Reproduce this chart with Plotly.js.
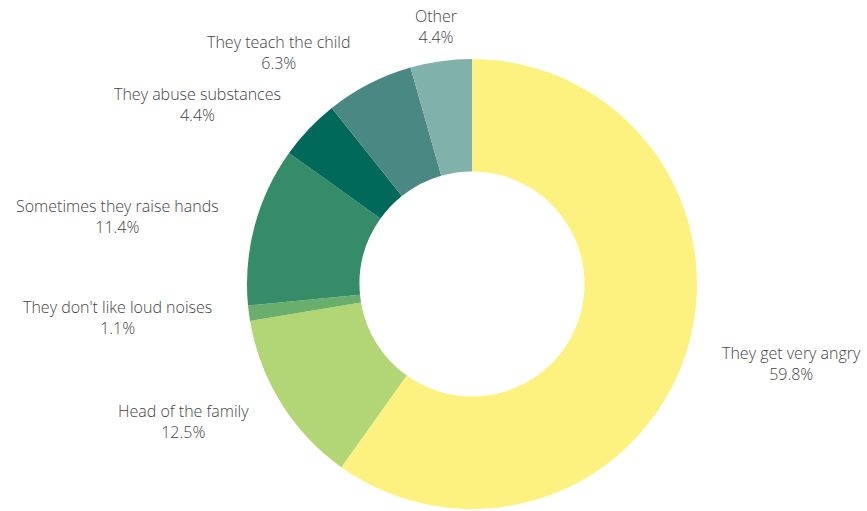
<!DOCTYPE html>
<html>
<head>
<meta charset="utf-8">
<script src="https://cdn.plot.ly/plotly-3.0.1.min.js"></script>
<style>html,body{margin:0;padding:0;background:#fff;}#chart{width:867px;height:511px;}</style>
</head>
<body>
<div id="chart"></div>
<script>
const labels = ["They get very angry", "Head of the family", "They don't like loud noises", "Sometimes they raise hands", "They abuse substances", "They teach the child", "Other"];
const values = [59.8, 12.5, 1.1, 11.4, 4.4, 6.3, 4.4];
const colors = ["#FDF180", "#B2D675", "#6AAE6E", "#368C69", "#00695A", "#4A8983", "#81B1AB"];

const W = 867, H = 511;
const margin = {t: 59, b: 2, l: 0, r: 0};
const labelGap = 35;      // distance of label anchor beyond the outer radius
const font = {family: "Open Sans, sans-serif", size: 16, color: "#444", weight: 300};

const gd = document.getElementById("chart");
Plotly.newPlot(gd, [{
  type: "pie",
  labels: labels,
  values: values,
  hole: 0.5,
  sort: false,
  direction: "clockwise",
  rotation: 0,
  marker: {colors: colors, line: {width: 0}},
  textinfo: "none",
  hoverinfo: "label+value",
  domain: {x: [0.0888, 1], y: [0, 1]},
  showlegend: false
}], {
  width: W, height: H,
  margin: margin,
  paper_bgcolor: "#fff",
  showlegend: false
}, {displayModeBar: false}).then(function () {
  const cd0 = gd.calcdata[0][0];
  const cx = cd0.cx, cy = cd0.cy, R = cd0.r;
  const plotW = W - margin.l - margin.r, plotH = H - margin.t - margin.b;
  const total = values.reduce((a, b) => a + b, 0);
  const anns = [];
  let cum = 0;
  values.forEach(function (v, i) {
    const mid = (cum + v / 2) / total * 2 * Math.PI;
    cum += v;
    const dx = Math.sin(mid), dy = -Math.cos(mid);
    const px = cx + (R + labelGap) * dx;
    const py = cy + (R + labelGap) * dy;
    const xa = Math.abs(dx) < 0.3 ? "center" : (dx > 0 ? "left" : "right");
    anns.push({
      xref: "paper", yref: "paper",
      x: (px - margin.l) / plotW, y: 1 - (py - margin.t) / plotH,
      xanchor: xa, yanchor: "middle", align: "center",
      text: labels[i] + "<br>" + v.toFixed(1) + "%",
      showarrow: false,
      font: font
    });
  });
  return Plotly.relayout(gd, {annotations: anns});
});
</script>
</body>
</html>
